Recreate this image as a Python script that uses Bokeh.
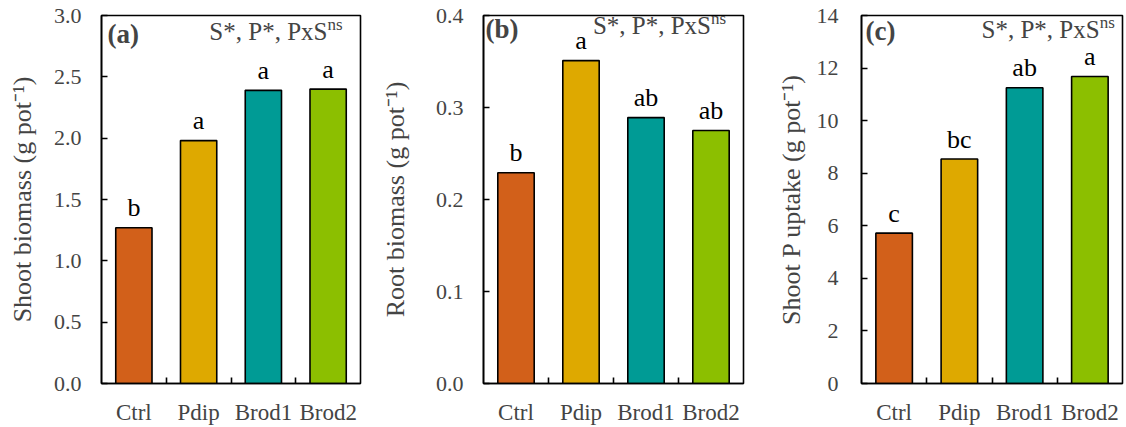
from bokeh.plotting import figure
from bokeh.layouts import row
from bokeh.models import Range1d, FixedTicker, SingleIntervalTicker, Label, ColumnDataSource, PrintfTickFormatter
from bokeh.core.properties import value
from bokeh.embed import file_html
from bokeh.resources import INLINE

categories = ["Ctrl", "Pdip", "Brod1", "Brod2"]
colors = ["#D2601A", "#DEA900", "#009B95", "#8CBF00"]

shoot_biomass = [1.27, 1.98, 2.39, 2.40]
shoot_letters = ["b", "a", "a", "a"]
root_biomass = [0.229, 0.351, 0.289, 0.275]
root_letters = ["b", "a", "ab", "ab"]
shoot_p_uptake = [5.72, 8.54, 11.25, 11.68]
shoot_p_letters = ["c", "bc", "ab", "a"]

y_labels = ["Shoot biomass (g pot⁻¹)", "Root biomass (g pot⁻¹)", "Shoot P uptake (g pot⁻¹)"]
panel_tags = ["(a)", "(b)", "(c)"]
effects_text = "S*, P*, PxS"
effects_sup = "ns"
y_max = [3.0, 0.4, 14]
y_step = [0.5, 0.1, 2]

FONT = "Liberation Serif"


def make_panel(vals, letters, ylabel, tag, ymax, ystep, fmt, width, left, right,
               tick_standoff, label_standoff, tag_dx, tag_y, eff_x, eff_y):
    xs = [i + 1 for i in range(len(categories))]
    src = ColumnDataSource(dict(x=xs, top=vals, color=colors, letters=letters))
    p = figure(width=width, height=427, output_backend="svg", toolbar_location=None,
               x_range=Range1d(0.5, 4.5), y_range=Range1d(0, ymax),
               min_border_left=left, min_border_right=right,
               min_border_top=15, min_border_bottom=43)
    p.vbar(x="x", top="top", width=0.56, bottom=0, fill_color="color",
           line_color="black", line_width=1.6, source=src)
    p.text(x="x", y="top", text="letters", source=src, text_align="center",
           text_baseline="alphabetic", y_offset=-20,
           text_font=value(FONT), text_font_size=value("26px"), text_color="black")
    p.grid.visible = False
    p.outline_line_color = "black"
    p.outline_line_width = 1.6
    p.background_fill_color = "white"
    p.border_fill_color = "white"

    # y axis
    ya = p.yaxis[0]
    ya.ticker = SingleIntervalTicker(interval=ystep, num_minor_ticks=0)
    ya.formatter = PrintfTickFormatter(format=fmt)
    ya.axis_label = ylabel
    ya.axis_label_text_font = FONT
    ya.axis_label_text_font_style = "normal"
    ya.axis_label_text_font_size = "26px"
    ya.axis_label_standoff = label_standoff
    ya.major_label_text_font = FONT
    ya.major_label_text_font_size = "22px"
    ya.major_label_standoff = tick_standoff
    ya.major_tick_in = 6
    ya.major_tick_out = 0
    ya.major_tick_line_width = 1.6
    ya.axis_line_width = 1.6
    ya.minor_tick_line_color = None

    # x axis
    xa = p.xaxis[0]
    xa.ticker = FixedTicker(ticks=xs, minor_ticks=[x + 0.5 for x in xs[:-1]])
    xa.major_label_overrides = {x: c for x, c in zip(xs, categories)}
    xa.major_label_text_font = FONT
    xa.major_label_text_font_size = "23px"
    xa.major_label_standoff = 16
    xa.major_tick_in = 0
    xa.major_tick_out = 0
    xa.minor_tick_in = 6
    xa.minor_tick_out = 0
    xa.minor_tick_line_width = 1.6
    xa.axis_line_width = 1.6

    p.add_layout(Label(x=0.5, y=tag_y, x_offset=tag_dx, y_offset=7, text=tag, text_font=FONT,
                       text_font_size="27px", text_font_style="bold",
                       text_baseline="alphabetic", text_align="left"))
    p.add_layout(Label(x=eff_x, y=eff_y, y_offset=8, text=effects_text, text_font=FONT,
                       text_font_size="25px", text_baseline="alphabetic", text_align="right"))
    p.add_layout(Label(x=eff_x, y=eff_y, y_offset=15, text=effects_sup, text_font=FONT,
                       text_font_size="17px", text_baseline="alphabetic", text_align="left"))
    return p


pa = make_panel(shoot_biomass, shoot_letters, y_labels[0], panel_tags[0], y_max[0], y_step[0],
                "%.1f", 370, 101, 10, 20, 14, 6, 2.789, 3.99, 2.805)
pb = make_panel(root_biomass, root_letters, y_labels[1], panel_tags[1], y_max[1], y_step[1],
                "%.1f", 380, 113, 7, 20, 23, 2, 0.3772, 4.0, 0.3805)
pc = make_panel(shoot_p_uptake, shoot_p_letters, y_labels[2], panel_tags[2], y_max[2], y_step[2],
                "%d", 376, 111, 4, 23, 8, 4, 13.13, 4.15, 13.15)

layout = row(pa, pb, pc)
open("out.html", "w").write(file_html(layout, INLINE))
